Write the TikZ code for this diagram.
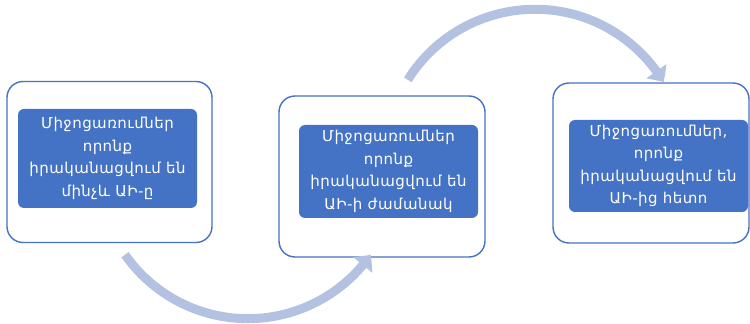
\documentclass[tikz,border=0pt]{standalone}
\usepackage{fontspec}
\setmainfont{DejaVu Sans}
\newfontfamily\armfont[Script=Armenian,LetterSpace=3]{DejaVu Sans}
\usepackage{xcolor}
\usetikzlibrary{arrows.meta, bending, calc}

\definecolor{accent}{RGB}{68,114,196}
\definecolor{arcblue}{RGB}{180,194,226}

\begin{document}
\begin{tikzpicture}[
  x=1pt, y=1pt,
  frame/.style={rectangle, draw=accent, line width=1.4pt, fill=white,
                rounded corners=16pt, inner sep=0pt},
  stage/.style={rectangle, fill=accent, rounded corners=6pt,
                minimum width=179pt, inner sep=0pt, text=white,
                font=\armfont\fontsize{15}{22.5}\selectfont, align=center},
  flow/.style={draw=arcblue, line width=9pt,
               -{Triangle[width=24pt, length=13pt, bend]}}
]
\useasboundingbox (0,0) rectangle (750,324);
% outer frames
\node[frame, minimum width=205pt, minimum height=161pt] (out1) at (109.5,162) {};
\node[frame, minimum width=206pt, minimum height=161pt] (out2) at (382,147.5) {};
\node[frame, minimum width=196pt, minimum height=160pt] (out3) at (651,161) {};
% inner boxes
\node[stage, minimum height=99pt] (before) at (107.5,165.5)
  {Միջոցառումներ\\որոնք\\իրականացվում են\\մինչև ԱԻ-ը};
\node[stage, minimum height=93pt] (during) at (388.5,152.5)
  {Միջոցառումներ\\որոնք\\իրականացվում են\\ԱԻ-ի ժամանակ};
\node[stage, minimum height=92pt] (after) at (658.5,158)
  {Միջոցառումներ,\\որոնք\\իրականացվում են\\ԱԻ-ից հետո};
% arrows
\draw[flow] ($(out1.south)+(15.5,-11.5)$) arc[start angle=215, end angle=325, radius=150];
\draw[flow] ($(out2.north)+(25.8,15.5)$) arc[start angle=148, end angle=31, radius=150];
\end{tikzpicture}
\end{document}
